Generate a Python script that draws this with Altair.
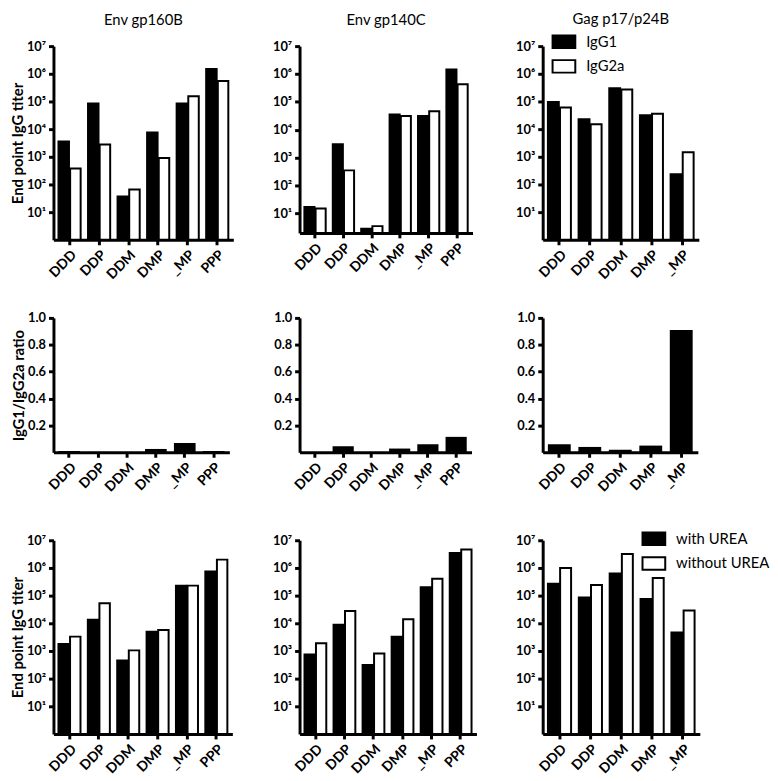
import altair as alt
import pandas as pd

FONT = "Lato"

cats6 = ["DDD", "DDP", "DDM", "DMP", "_MP", "PPP"]
cats5 = ["DDD", "DDP", "DDM", "DMP", "_MP"]

igg_series = ["IgG1", "IgG2a"]
urea_series = ["with UREA", "without UREA"]

titles = ["Env gp160B", "Env gp140C", "Gag p17/p24B"]

# Row 1: end point IgG titers (IgG1 / IgG2a)
gp160_igg1 = [3600, 85000, 37, 7500, 85000, 1500000]
gp160_igg2a = [380, 2800, 66, 900, 155000, 550000]
gp140_igg1 = [17, 3000, 2.8, 35000, 31000, 1450000]
gp140_igg2a = [15, 350, 3.5, 31000, 46000, 430000]
gag_igg1 = [95000, 23000, 300000, 32000, 235]
gag_igg2a = [60000, 15000, 270000, 36000, 1450]

# Row 2: IgG1/IgG2a ratio
gp160_ratio = [0.01, 0.003, 0.002, 0.025, 0.07, 0.01]
gp140_ratio = [0.002, 0.045, 0.002, 0.028, 0.06, 0.115]
gag_ratio = [0.06, 0.04, 0.02, 0.05, 0.91]

# Row 3: titers with / without UREA
gp160_with = [1800, 13500, 450, 5000, 230000, 750000]
gp160_without = [3300, 53000, 1050, 5700, 230000, 2000000]
gp140_with = [740, 8900, 310, 3300, 200000, 3500000]
gp140_without = [1900, 28000, 810, 14000, 410000, 4600000]
gag_with = [270000, 85000, 630000, 76000, 4700]
gag_without = [1000000, 240000, 3200000, 430000, 29000]

log_ticks = [10, 100, 1000, 10000, 100000, 1000000, 10000000]
sup_expr = "'10' + ['\u2070','\u00b9','\u00b2','\u00b3','\u2074','\u2075','\u2076','\u2077'][round(log(datum.value)/LN10)]"

PI, PO = 0.25, 0.17


def legend_box(x, y):
    return alt.Legend(
        title=None, orient="none", legendX=x, legendY=y, direction="vertical",
        symbolType="M-1,-0.55H1V0.55H-1Z", symbolSize=529,
        symbolStrokeColor="black", symbolStrokeWidth=2,
        labelFont=FONT, labelFontSize=15, labelFontWeight="normal",
        labelColor="black", labelOffset=10, rowPadding=2,
    )


def titer_panel(cats, v1, v2, names, width, height, ymin, title=None,
                ytitle=None, legend=None):
    n = len(cats)
    df = pd.DataFrame({
        "cat": list(cats) * 2,
        "series": [names[0]] * n + [names[1]] * n,
        "value": list(v1) + list(v2),
    })
    ch = alt.Chart(df).mark_bar(stroke="black", strokeWidth=2).encode(
        x=alt.X("cat:N", sort=list(cats),
                scale=alt.Scale(paddingInner=PI, paddingOuter=PO),
                axis=alt.Axis(title=None, labelAngle=-45)),
        xOffset=alt.XOffset("series:N", sort=names,
                            scale=alt.Scale(paddingInner=0.1)),
        y=alt.Y("value:Q",
                scale=alt.Scale(type="log", domain=[ymin, 10000000], clamp=True),
                axis=alt.Axis(title=ytitle, values=log_ticks, labelExpr=sup_expr)),
        color=alt.Color("series:N", sort=names,
                        scale=alt.Scale(domain=names, range=["black", "white"]),
                        legend=legend),
    ).properties(width=width, height=height)
    if title is not None:
        ch = ch.properties(title=title)
    return ch


RATIO_H = 136
RATIO_CELL = 146


def ratio_panel(cats, vals, width, ytitle=None):
    df = pd.DataFrame({"cat": cats, "value": vals})
    return alt.Chart(df).mark_bar(color="black").encode(
        x=alt.X("cat:N", sort=list(cats),
                scale=alt.Scale(paddingInner=PI, paddingOuter=PO),
                axis=alt.Axis(title=None, labelAngle=-45,
                              offset=RATIO_H - RATIO_CELL)),
        y=alt.Y("value:Q", scale=alt.Scale(domain=[0, 1], range=[RATIO_H, 0]),
                axis=alt.Axis(title=ytitle, values=[0.2, 0.4, 0.6, 0.8, 1.0],
                              format=".1f")),
    ).properties(width=width, height=RATIO_CELL)


H = 196

panels = [
    titer_panel(cats6, gp160_igg1, gp160_igg2a, igg_series, 182, H, 1,
                title=titles[0], ytitle="End point IgG titer"),
    titer_panel(cats6, gp140_igg1, gp140_igg2a, igg_series, 175, 189, 2,
                title=titles[1]),
    titer_panel(cats5, gag_igg1, gag_igg2a, igg_series, 158, H, 1,
                title=alt.TitleParams(titles[2], dy=10),
                legend=legend_box(9, -17)),
    ratio_panel(cats6, gp160_ratio, 178, ytitle="IgG1/IgG2a ratio"),
    ratio_panel(cats6, gp140_ratio, 174),
    ratio_panel(cats5, gag_ratio, 157),
    titer_panel(cats6, gp160_with, gp160_without, urea_series, 181, H, 1,
                ytitle="End point IgG titer"),
    titer_panel(cats6, gp140_with, gp140_without, urea_series, 179, H, 1),
    titer_panel(cats5, gag_with, gag_without, urea_series, 159, H, 1,
                legend=legend_box(100, -14)),
]

chart = alt.concat(
    *panels, columns=3, spacing={"row": 79, "column": 67}, bounds="flush",
    align="each",
).resolve_scale(
    color="independent", x="independent", y="independent", xOffset="independent"
).resolve_legend(color="independent").properties(
    padding={"left": 2, "top": 0, "right": 0, "bottom": 0}
).configure_view(
    stroke=None
).configure_axis(
    domainColor="black", domainWidth=3, tickColor="black", tickWidth=3,
    tickSize=5, labelColor="black", labelFont=FONT, labelFontWeight="bold",
    labelFontSize=13, labelPadding=3, titleFont=FONT, titleFontWeight="bold",
    titleFontSize=15, titleColor="black", titlePadding=1, grid=False,
).configure_axisX(labelFontSize=14).configure_title(
    font=FONT, fontSize=15, fontWeight="normal", color="black",
    anchor="middle", offset=12,
)

chart.save("out.html", embed_options={"renderer": "svg", "actions": False})
